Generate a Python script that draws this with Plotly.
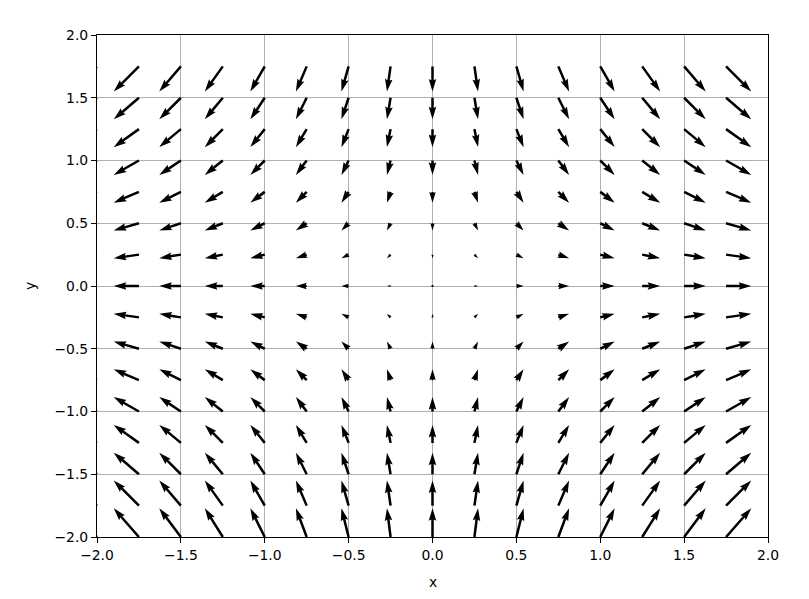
import numpy as np
import plotly.graph_objects as go

# ---- data ----
# grid positions (tails of the arrows)
x_positions = [-2.0, -1.75, -1.5, -1.25, -1.0, -0.75, -0.5, -0.25,
               0.0, 0.25, 0.5, 0.75, 1.0, 1.25, 1.5, 1.75]
y_positions = [-2.0, -1.75, -1.5, -1.25, -1.0, -0.75, -0.5, -0.25,
               0.0, 0.25, 0.5, 0.75, 1.0, 1.25, 1.5, 1.75]
# horizontal component of the vectors, per column
u_by_column = [-2.0, -1.75, -1.5, -1.25, -1.0, -0.75, -0.5, -0.25,
               0.0, 0.25, 0.5, 0.75, 1.0, 1.25, 1.5, 1.75]
# vertical component of the vectors, per row
v_by_row = [2.0, 1.75, 1.5, 1.25, 1.0, 0.75, 0.5, 0.25,
            0.0, -0.25, -0.5, -0.75, -1.0, -1.25, -1.5, -1.75]

tick_vals = [-2.0, -1.5, -1.0, -0.5, 0.0, 0.5, 1.0, 1.5, 2.0]
tick_text = ["\u22122.0", "\u22121.5", "\u22121.0", "\u22120.5", "0.0",
             "0.5", "1.0", "1.5", "2.0"]

# ---- layout geometry (page has an 8px body margin) ----
W_FIG, H_FIG = 809, 599
M_L, M_R, M_T, M_B = 89, 49, 27, 70
plot_w = W_FIG - M_L - M_R
plot_h = H_FIG - M_T - M_B
x_range = [-2.0, 2.0]
y_range = [-2.0, 2.0]
sx = plot_w / (x_range[1] - x_range[0])   # px per data unit
sy = plot_h / (y_range[1] - y_range[0])

# quiver style (matplotlib-like)
shaft_w = 0.06 * plot_w / 16.0     # px
head_width, head_length, head_axis_length = 3.0, 5.0, 4.5
min_shaft, min_length = 1.0, 1.0
px_per_mag = 14.4                  # arrow length in px per unit magnitude


def arrow_shape(L):
    """Return polygon (x, y) in shaft-width units for an arrow of length L."""
    minsh = min_shaft * head_length
    ii = [0, 1, 2, 3, 2, 1, 0, 0]
    if L < min_length:
        th = np.arange(0, 8) * (np.pi / 3.0)
        return np.cos(th) * min_length * 0.5, np.sin(th) * min_length * 0.5
    if L < minsh:
        xs = np.array([0, minsh - head_axis_length, minsh - head_length, minsh])
        ys = 0.5 * np.array([1, 1, head_width, 0])
        shrink = L / minsh
        X = xs[ii] * shrink
        Y = ys[ii].copy()
        Y[3:-1] *= -1
        Y = Y * shrink
        return X, Y
    xs = np.array([0, L - head_axis_length, L - head_length, L])
    ys = 0.5 * np.array([1, 1, head_width, 0])
    X = xs[ii]
    Y = ys[ii].copy()
    Y[3:-1] *= -1
    return X, Y


px_all, py_all = [], []
for j, y0 in enumerate(y_positions):
    for i, x0 in enumerate(x_positions):
        u = u_by_column[i]
        v = v_by_row[j]
        mag = np.hypot(u, v)
        L = mag * px_per_mag / shaft_w
        X, Y = arrow_shape(L)
        th = np.arctan2(v, u)
        c, s = np.cos(th), np.sin(th)
        xr = (X * c - Y * s) * shaft_w
        yr = (X * s + Y * c) * shaft_w
        px_all.extend(list(x0 + xr / sx) + [None])
        py_all.extend(list(y0 + yr / sy) + [None])

fig = go.Figure()
fig.add_trace(go.Scatter(
    x=px_all, y=py_all, mode="lines", fill="toself",
    fillcolor="black", line=dict(width=0, color="black"),
    hoverinfo="skip", showlegend=False,
))

axis_common = dict(
    tickvals=tick_vals, ticktext=tick_text,
    showgrid=True, gridcolor="#b0b0b0", gridwidth=1.1,
    zeroline=False, showline=True, mirror=True,
    linecolor="black", linewidth=1.1,
    ticks="outside", ticklen=5, tickwidth=1.1, tickcolor="black",
    tickfont=dict(family="DejaVu Sans", size=13.9, color="black"),
    automargin=False,
)

fig.update_layout(
    width=W_FIG, height=H_FIG,
    margin=dict(l=M_L, r=M_R, t=M_T, b=M_B, pad=0),
    plot_bgcolor="white", paper_bgcolor="white",
    xaxis=dict(range=x_range, **axis_common),
    yaxis=dict(range=y_range, **axis_common),
    font=dict(family="DejaVu Sans", size=13.9, color="black"),
    annotations=[
        dict(text="x", xref="paper", yref="paper", x=0.5, y=0,
             xanchor="center", yanchor="middle", yshift=-45,
             showarrow=False, font=dict(size=13.9)),
        dict(text="y", xref="paper", yref="paper", x=0, y=0.5,
             xanchor="center", yanchor="middle", xshift=-67,
             textangle=-90, showarrow=False, font=dict(size=13.9)),
    ],
)

fig.write_html("out.html")
